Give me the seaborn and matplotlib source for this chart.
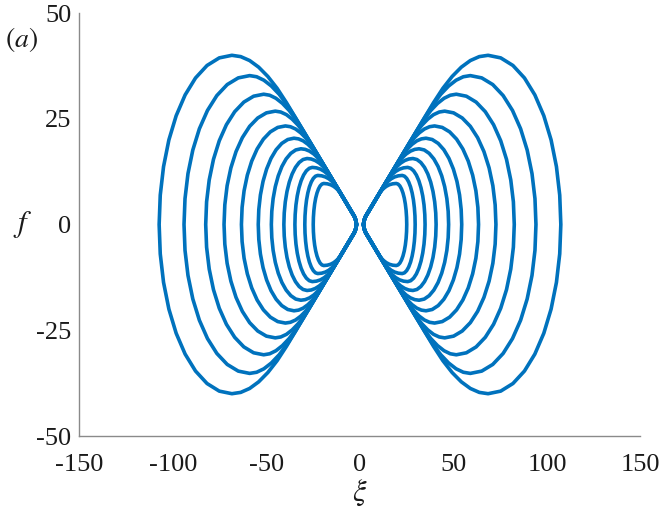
import matplotlib
matplotlib.use("Agg")
import matplotlib.pyplot as plt
import pandas as pd
import seaborn as sns

# rounded vertex near the origin, shared by every orbit (upper right quarter)
corner_xi = [1.9, 2.05, 2.4, 3.0]
corner_f = [0.0, 0.6, 1.2, 1.9]

# upper right quarter of each orbit (outer -> inner)
orbit_xi = [
    [39.32, 44.33, 49.28, 54.19, 59.01, 63.79, 68.5, 75.25, 81.8, 87.95, 93.5, 98.3, 102.19, 105.05, 106.81, 107.4],
    [34.65, 39.03, 43.27, 47.40, 51.39, 55.26, 59.0, 65.09, 71.0, 76.55, 81.56, 85.89, 89.4, 91.98, 93.57, 94.1],
    [30.38, 34.21, 37.90, 41.49, 44.95, 48.28, 51.5, 56.88, 62.1, 67.0, 71.43, 75.25, 78.35, 80.63, 82.03, 82.5],
    [26.49, 29.82, 33.07, 36.26, 39.34, 42.37, 45.3, 50.06, 54.67, 59.0, 62.91, 66.29, 69.03, 71.05, 72.28, 72.7],
    [23.08, 26.0, 28.86, 31.70, 34.46, 37.21, 39.9, 43.98, 47.94, 51.65, 55.01, 57.9, 60.25, 61.98, 63.04, 63.4],
    [20.26, 22.82, 25.35, 27.89, 30.37, 32.84, 35.3, 38.62, 41.83, 44.85, 47.58, 49.93, 51.84, 53.25, 54.11, 54.4],
    [17.82, 20.08, 22.36, 24.66, 26.95, 29.27, 31.6, 34.34, 37.0, 39.5, 41.76, 43.7, 45.28, 46.45, 47.16, 47.4],
    [15.58, 17.58, 19.61, 21.73, 23.86, 26.05, 28.3, 30.45, 32.54, 34.5, 36.27, 37.8, 39.04, 39.95, 40.51, 40.7],
    [13.54, 15.29, 17.14, 19.10, 21.12, 23.27, 25.5, 27.11, 28.68, 30.15, 31.48, 32.62, 33.55, 34.24, 34.66, 34.8],
    [11.69, 13.22, 14.86, 16.61, 18.49, 20.48, 22.6, 23.8, 24.96, 26.05, 27.04, 27.89, 28.58, 29.08, 29.4, 29.5],
    [9.84, 11.12, 12.53, 14.07, 15.71, 17.49, 19.4, 20.37, 21.32, 22.2, 23.0, 23.69, 24.25, 24.66, 24.91, 25.0],
]
orbit_f = [
    [28.8, 32.2, 35.0, 37.2, 38.76, 39.69, 40.0, 39.39, 37.59, 34.64, 30.64, 25.71, 20.0, 13.68, 6.94, 0.0],
    [25.34, 28.36, 30.82, 32.74, 34.11, 34.93, 35.2, 34.66, 33.08, 30.48, 26.96, 22.63, 17.6, 12.04, 6.11, 0.0],
    [22.18, 24.81, 26.97, 28.64, 29.84, 30.56, 30.8, 30.33, 28.94, 26.67, 23.59, 19.80, 15.4, 10.53, 5.35, 0.0],
    [19.30, 21.59, 23.46, 24.92, 25.97, 26.59, 26.8, 26.39, 25.18, 23.21, 20.53, 17.23, 13.4, 9.17, 4.65, 0.0],
    [16.78, 18.77, 20.40, 21.67, 22.58, 23.12, 23.3, 22.95, 21.90, 20.18, 17.85, 14.98, 11.65, 7.97, 4.04, 0.0],
    [14.69, 16.43, 17.86, 18.97, 19.77, 20.24, 20.4, 20.09, 19.17, 17.67, 15.63, 13.11, 10.2, 6.98, 3.54, 0.0],
    [12.89, 14.42, 15.67, 16.65, 17.34, 17.76, 17.9, 17.63, 16.82, 15.50, 13.71, 11.51, 8.95, 6.12, 3.11, 0.0],
    [11.23, 12.57, 13.66, 14.51, 15.11, 15.48, 15.6, 15.36, 14.66, 13.51, 11.95, 10.03, 7.8, 5.34, 2.71, 0.0],
    [9.72, 10.88, 11.82, 12.56, 13.08, 13.39, 13.5, 13.29, 12.69, 11.69, 10.34, 8.68, 6.75, 4.62, 2.34, 0.0],
    [8.35, 9.34, 10.16, 10.79, 11.24, 11.51, 11.6, 11.42, 10.90, 10.05, 8.89, 7.46, 5.8, 3.97, 2.01, 0.0],
    [6.98, 7.81, 8.49, 9.02, 9.40, 9.62, 9.7, 9.55, 9.12, 8.40, 7.43, 6.24, 4.85, 3.32, 1.68, 0.0],
]

xticks = [-150, -100, -50, 0, 50, 100, 150]
yticks = [-50, -25, 0, 25, 50]

# close every orbit by mirroring the quarter (picture is symmetric)
rows = []
for k, (xs, fs) in enumerate(zip(orbit_xi, orbit_f)):
    qx = corner_xi + xs
    qf = corner_f + fs
    lx = qx + qx[-2::-1]
    lf = qf + [-v for v in qf[-2::-1]]
    for side, sgn in (("R", 1), ("L", -1)):
        for i, (a, b) in enumerate(zip(lx, lf)):
            rows.append((side + str(k), i, sgn * a, b))
df = pd.DataFrame(rows, columns=["curve", "order", "xi", "f"])

sns.set_style("white")
plt.rcParams["font.family"] = ["Liberation Serif", "DejaVu Serif"]
plt.rcParams["mathtext.fontset"] = "stix"
plt.rcParams["axes.unicode_minus"] = False

fig = plt.figure(figsize=(6.64, 5.18), dpi=100)
ax = fig.add_axes([0.1197, 0.1583, 0.8449, 0.8166])

sns.lineplot(data=df, x="xi", y="f", units="curve", estimator=None, sort=False,
             color="#0072BD", linewidth=2.6, ax=ax)

ax.set_xlim(-150, 150)
ax.set_ylim(-50, 50)
ax.set_xticks(xticks)
ax.set_yticks(yticks)
ax.set_xticklabels([str(v) for v in xticks])
ax.set_yticklabels([str(v) for v in yticks])
ax.tick_params(direction="in", length=3.6, width=0.8, color="#333333",
               labelsize=19, labelcolor="#1a1a1a")
ax.tick_params(axis="x", pad=13)
ax.tick_params(axis="y", pad=6)
for s in ("top", "right"):
    ax.spines[s].set_visible(False)
for s in ("left", "bottom"):
    ax.spines[s].set_color("#8a8a8a")
    ax.spines[s].set_linewidth(1.0)

ax.set_xlabel(r"$\xi$", fontsize=22, color="#1a1a1a")
ax.set_ylabel(r"$f$", fontsize=22, color="#1a1a1a", rotation=0)
ax.xaxis.set_label_coords(0.5, -0.135)
ax.yaxis.set_label_coords(-0.102, 0.5)
ax.yaxis.label.set_va("center")
ax.xaxis.label.set_va("center")
fig.text(0.032, 0.923, r"$(a)$", fontsize=20, color="#1a1a1a", ha="center", va="center")

fig.savefig("out.png", dpi=100)
